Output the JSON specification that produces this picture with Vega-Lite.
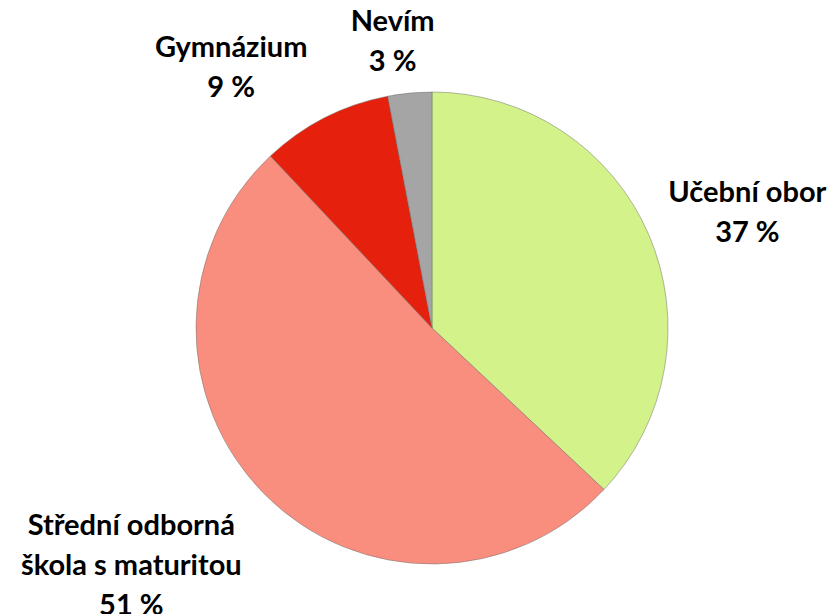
{
  "$schema": "https://vega.github.io/schema/vega-lite/v6.json",
  "width": 804,
  "height": 572,
  "autosize": {"type": "none"},
  "padding": {"left": 30, "top": 42, "right": 0, "bottom": 0},
  "background": "white",
  "view": {"stroke": null},
  "data": {
    "values": [
      {"kategorie": "Učební obor", "popis": "Učební obor", "podil": 37, "poradi": 1},
      {"kategorie": "Střední odborná škola s maturitou", "popis": "Střední odborná\nškola s maturitou", "podil": 51, "poradi": 2},
      {"kategorie": "Gymnázium", "popis": "Gymnázium", "podil": 9, "poradi": 3},
      {"kategorie": "Nevím", "popis": "Nevím", "podil": 3, "poradi": 4}
    ]
  },
  "transform": [
    {"stack": "podil", "groupby": [], "sort": [{"field": "poradi"}], "as": ["t0", "t1"]},
    {"calculate": "(datum.t0 + datum.t1) / 2", "as": "stred"},
    {"calculate": "datum.popis + '\\n' + datum.podil + ' %'", "as": "stitek"}
  ],
  "layer": [
    {
      "mark": {"type": "arc", "outerRadius": 236, "stroke": "#6e6e6e", "strokeWidth": 0.7, "strokeOpacity": 0.7},
      "encoding": {
        "theta": {"field": "t0", "type": "quantitative", "scale": {"domain": [0, 100]}},
        "theta2": {"field": "t1"},
        "color": {
          "field": "kategorie",
          "type": "nominal",
          "scale": {
            "domain": ["Učební obor", "Střední odborná škola s maturitou", "Gymnázium", "Nevím"],
            "range": ["#d3f28a", "#fa8e7e", "#e5200c", "#a5a5a5"]
          },
          "legend": null
        }
      }
    },
    {
      "transform": [{"filter": "datum.poradi == 1"}],
      "mark": {"type": "text", "radius": 336, "dx": 7, "dy": -2, "font": "Lato", "fontWeight": "bold", "fontSize": 29, "lineHeight": 40, "lineBreak": "\n", "align": "center", "baseline": "middle", "color": "black"},
      "encoding": {
        "theta": {"field": "stred", "type": "quantitative", "scale": {"domain": [0, 100]}},
        "text": {"field": "stitek"}
      }
    },
    {
      "transform": [{"filter": "datum.poradi == 2"}],
      "mark": {"type": "text", "radius": 380, "dx": -32, "dy": -71, "font": "Lato", "fontWeight": "bold", "fontSize": 29, "lineHeight": 40, "lineBreak": "\n", "align": "center", "baseline": "middle", "color": "black"},
      "encoding": {
        "theta": {"field": "stred", "type": "quantitative", "scale": {"domain": [0, 100]}},
        "text": {"field": "stitek"}
      }
    },
    {
      "transform": [{"filter": "datum.poradi == 3"}],
      "mark": {"type": "text", "radius": 330, "dx": -51, "dy": 14, "font": "Lato", "fontWeight": "bold", "fontSize": 29, "lineHeight": 40, "lineBreak": "\n", "align": "center", "baseline": "middle", "color": "black"},
      "encoding": {
        "theta": {"field": "stred", "type": "quantitative", "scale": {"domain": [0, 100]}},
        "text": {"field": "stitek"}
      }
    },
    {
      "transform": [{"filter": "datum.poradi == 4"}],
      "mark": {"type": "text", "radius": 291, "dx": -12, "dy": -16, "font": "Lato", "fontWeight": "bold", "fontSize": 29, "lineHeight": 40, "lineBreak": "\n", "align": "center", "baseline": "middle", "color": "black"},
      "encoding": {
        "theta": {"field": "stred", "type": "quantitative", "scale": {"domain": [0, 100]}},
        "text": {"field": "stitek"}
      }
    }
  ]
}
